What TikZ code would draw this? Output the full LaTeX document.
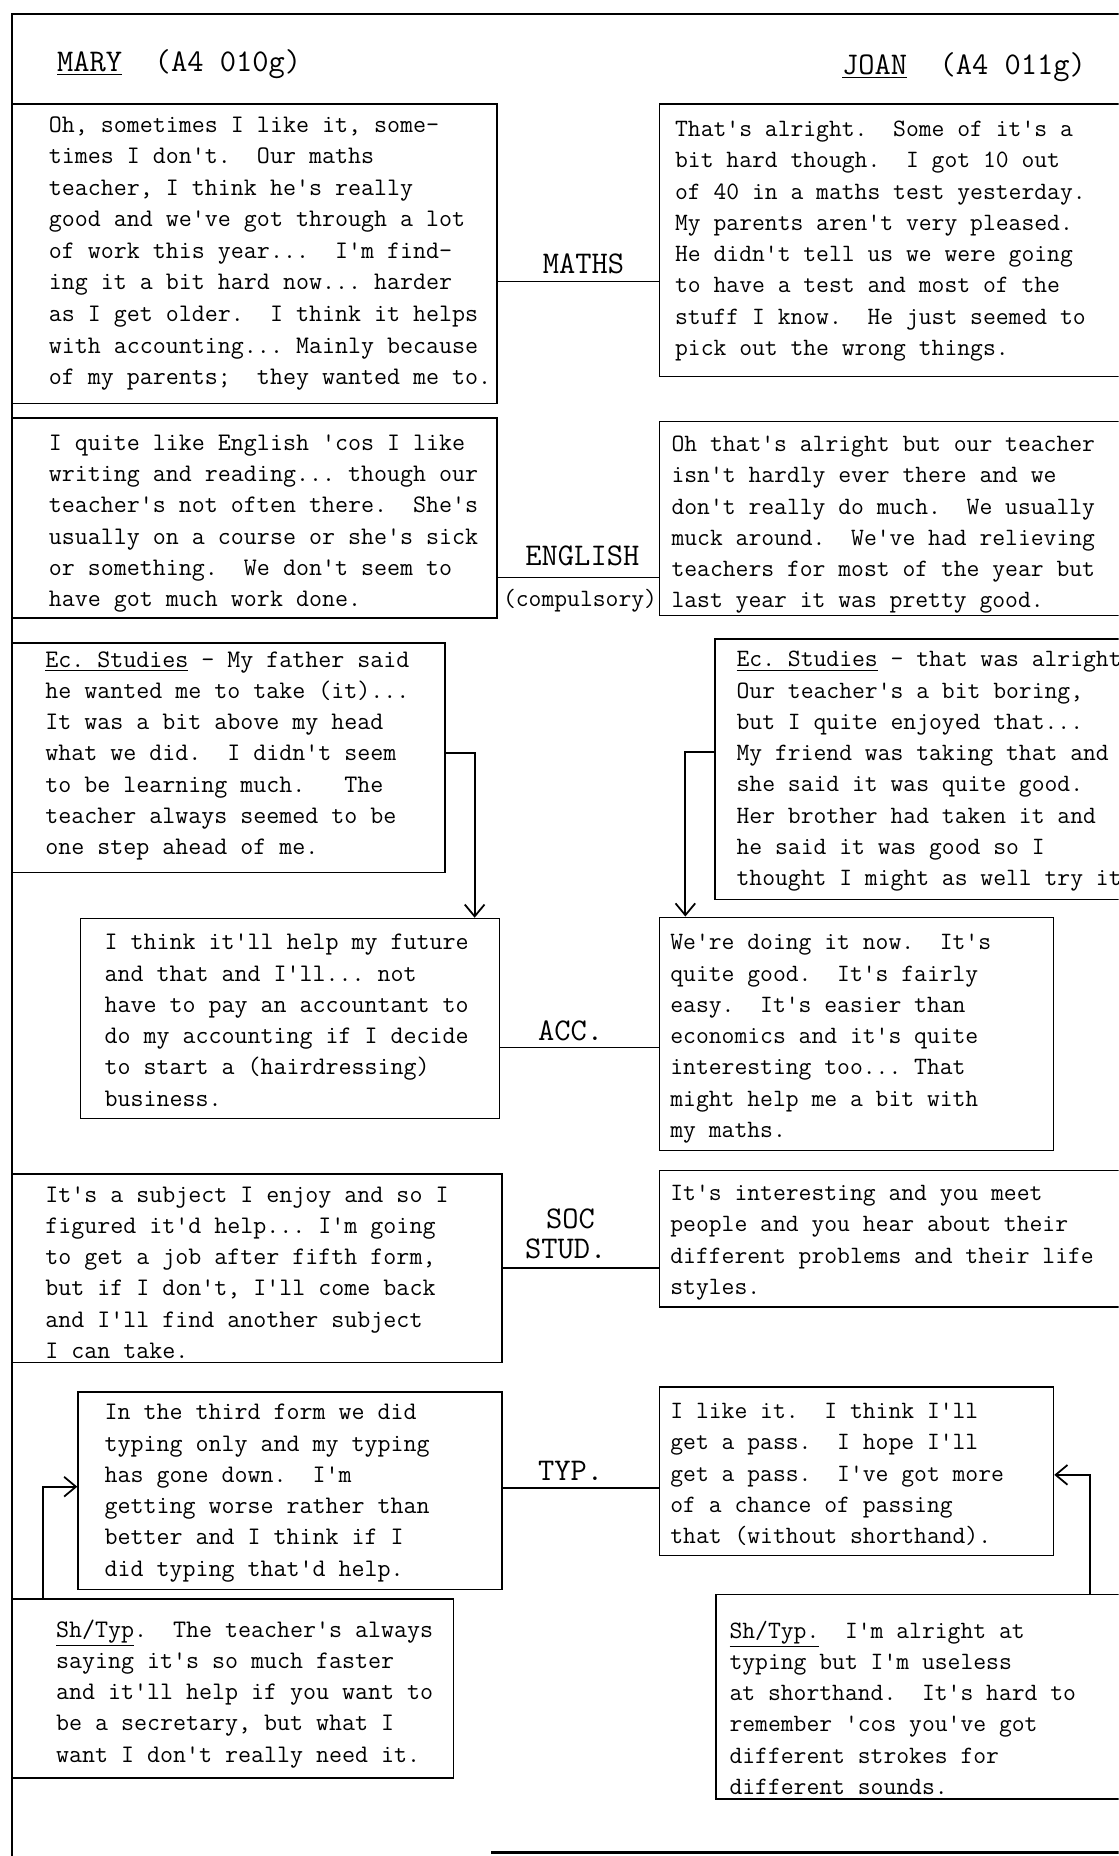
\documentclass[tikz,border=0pt]{standalone}
\usetikzlibrary{arrows.meta,fit}
% typewriter faces for the answers and for the subject labels
\newcommand\maryfont{\ttfamily\fontsize{12.8pt}{15.84pt}\selectfont\frenchspacing}
\newcommand\marywidefont{\ttfamily\fontsize{12.8pt}{16pt}\selectfont\frenchspacing}
\newcommand\joanfont{\ttfamily\fontsize{12.63pt}{15.84pt}\selectfont\frenchspacing}
\newcommand\subjectfont{\ttfamily\fontsize{16pt}{19pt}\selectfont}
\tikzset{
  qbox/.style={draw, line width=0.8pt, inner sep=0pt},
  qtext/.style={font=\joanfont, align=left, inner sep=0pt, anchor=north west},
  mtext/.style={qtext, font=\maryfont},
  subjlabel/.style={font=\subjectfont, inner sep=0pt, anchor=base},
  linkline/.style={line width=0.8pt},
  feedarrow/.style={line width=0.9pt, -{Straight Barb[length=6pt,width=10pt]}},
  outerline/.style={line width=1.2pt},
}
\begin{document}
\begin{tikzpicture}[x=0.6pt,y=-0.6pt]
\useasboundingbox (0,0) rectangle (945,1568);
\clip (0,0) rectangle (945,1568);
\fill[white] (0,0) rectangle (945,1568);

% page frame
\draw[outerline] (945,12) -- (10,12) -- (10,1568);
\draw[outerline] (415,1565) -- (945,1565);

% headings
\node[font=\subjectfont, anchor=base west, inner sep=0pt] (hmary) at (48,60) {\underline{MARY}~~(A4 010g)};
\node[font=\subjectfont, anchor=base west, inner sep=0pt] (hjoan) at (711,63) {\underline{JOAN}~~(A4 011g)};

% ---------- answer boxes ----------
\node[qbox, fit={(10,88) (420,341)}] (mm) {};
\node[qbox, fit={(557,88) (960,318)}] (jm) {};
\node[qbox, fit={(10,353) (420,522)}] (me) {};
\node[qbox, fit={(557,356) (960,520)}] (je) {};
\node[qbox, fit={(10,543) (376,737)}] (mec) {};
\node[qbox, fit={(604,540) (960,760)}] (jec) {};
\node[qbox, fit={(68,776) (422,945)}] (macc) {};
\node[qbox, fit={(557,775) (890,972)}] (jacc) {};
\node[qbox, fit={(10,992) (424,1151)}] (msoc) {};
\node[qbox, fit={(557,989) (960,1104)}] (jsoc) {};
\node[qbox, fit={(66,1176) (424,1343)}] (mtyp) {};
\node[qbox, fit={(557,1172) (890,1314)}] (jtyp) {};
\node[qbox, fit={(10,1351) (383,1502)}] (msh) {};
\node[qbox, fit={(605,1347) (960,1520)}] (jsh) {};

% ---------- answers ----------
\node[mtext, font=\marywidefont] (tmm) at (41,98) {Oh, sometimes I like it, some-\\
times I don't.~ Our maths\\
teacher, I think he's really\\
good and we've got through a lot\\
of work this year...~ I'm find-\\
ing it a bit hard now... harder\\
as I get older.~ I think it helps\\
with accounting... Mainly because\\
of my parents;~ they wanted me to.};

\node[qtext] (tjm) at (570,102) {That's alright.~ Some of it's a\\
bit hard though.~ I got 10 out\\
of 40 in a maths test yesterday.\\
My parents aren't very pleased.\\
He didn't tell us we were going\\
to have a test and most of the\\
stuff I know.~ He just seemed to\\
pick out the wrong things.};

\node[mtext] (tme) at (41,367) {I quite like English 'cos I like\\
writing and reading... though our\\
teacher's not often there.~ She's\\
usually on a course or she's sick\\
or something.~ We don't seem to\\
have got much work done.};

\node[qtext] (tje) at (567,368) {Oh that's alright but our teacher\\
isn't hardly ever there and we\\
don't really do much.~ We usually\\
muck around.~ We've had relieving\\
teachers for most of the year but\\
last year it was pretty good.};

\node[mtext] (tmec) at (38,550) {\underline{Ec. Studies} - My father said\\
he wanted me to take (it)...\\
It was a bit above my head\\
what we did.~ I didn't seem\\
to be learning much.~~ The\\
teacher always seemed to be\\
one step ahead of me.};

\node[qtext] (tjec) at (622,550) {\underline{Ec. Studies} - that was alright\\
Our teacher's a bit boring,\\
but I quite enjoyed that...\\
My friend was taking that and\\
she said it was quite good.\\
Her brother had taken it and\\
he said it was good so I\\
thought I might as well try it};

\node[mtext] (tmacc) at (88,789) {I think it'll help my future\\
and that and I'll... not\\
have to pay an accountant to\\
do my accounting if I decide\\
to start a (hairdressing)\\
business.};

\node[qtext] (tjacc) at (566,789) {We're doing it now.~ It's\\
quite good.~ It's fairly\\
easy.~ It's easier than\\
economics and it's quite\\
interesting too... That\\
might help me a bit with\\
my maths.};

\node[mtext] (tmsoc) at (38,1002) {It's a subject I enjoy and so I\\
figured it'd help... I'm going\\
to get a job after fifth form,\\
but if I don't, I'll come back\\
and I'll find another subject\\
I can take.};

\node[qtext] (tjsoc) at (566,1001) {It's interesting and you meet\\
people and you hear about their\\
different problems and their life\\
styles.};

\node[mtext] (tmtyp) at (88,1186) {In the third form we did\\
typing only and my typing\\
has gone down.~ I'm\\
getting worse rather than\\
better and I think if I\\
did typing that'd help.};

\node[qtext] (tjtyp) at (566,1185) {I like it.~ I think I'll\\
get a pass.~ I hope I'll\\
get a pass.~ I've got more\\
of a chance of passing\\
that (without shorthand).};

\node[mtext] (tmsh) at (47,1368) {\underline{Sh/Typ}.~ The teacher's always\\
saying it's so much faster\\
and it'll help if you want to\\
be a secretary, but what I\\
want I don't really need it.};

\node[qtext] (tjsh) at (616,1369) {\underline{Sh/Typ.}~ I'm alright at\\
typing but I'm useless\\
at shorthand.~ It's hard to\\
remember 'cos you've got\\
different strokes for\\
different sounds.};

% ---------- subject labels and links ----------
\node[subjlabel] (smaths) at (493,231) {MATHS};
\coordinate (ymaths) at (493,238);
\draw[linkline] (mm.east |- ymaths) -- (jm.west |- ymaths);

\node[subjlabel] (seng) at (492,478) {ENGLISH};
\node[font=\joanfont, inner sep=0pt, anchor=base] (scomp) at (490,512) {(compulsory)};
\coordinate (yeng) at (492,488);
\draw[linkline] (me.east |- yeng) -- (je.west |- yeng);

\node[subjlabel] (sacc) at (482,879) {ACC.};
\coordinate (yacc) at (482,885);
\draw[linkline] (macc.east |- yacc) -- (jacc.west |- yacc);

\node[subjlabel] (ssoc) at (482,1038) {SOC};
\node[subjlabel] (sstud) at (478,1063) {STUD.};
\coordinate (ysoc) at (482,1071);
\draw[linkline] (msoc.east |- ysoc) -- (jsoc.west |- ysoc);

\node[subjlabel] (styp) at (482,1251) {TYP.};
\coordinate (ytyp) at (482,1257);
\draw[linkline] (mtyp.east |- ytyp) -- (jtyp.west |- ytyp);

% ---------- arrows from one subject to the next ----------
\coordinate (ka) at (401,636);
\draw[feedarrow] (mec.east |- ka) -| (macc.north -| ka);
\coordinate (kb) at (579,635);
\draw[feedarrow] (jec.west |- kb) -| (jacc.north -| kb);
\coordinate (kc) at (36,1256);
\draw[feedarrow] (msh.north -| kc) |- (mtyp.west |- kc);
\coordinate (kd) at (921,1246);
\draw[feedarrow] (jsh.north -| kd) |- (jtyp.east |- kd);
\end{tikzpicture}
\end{document}
